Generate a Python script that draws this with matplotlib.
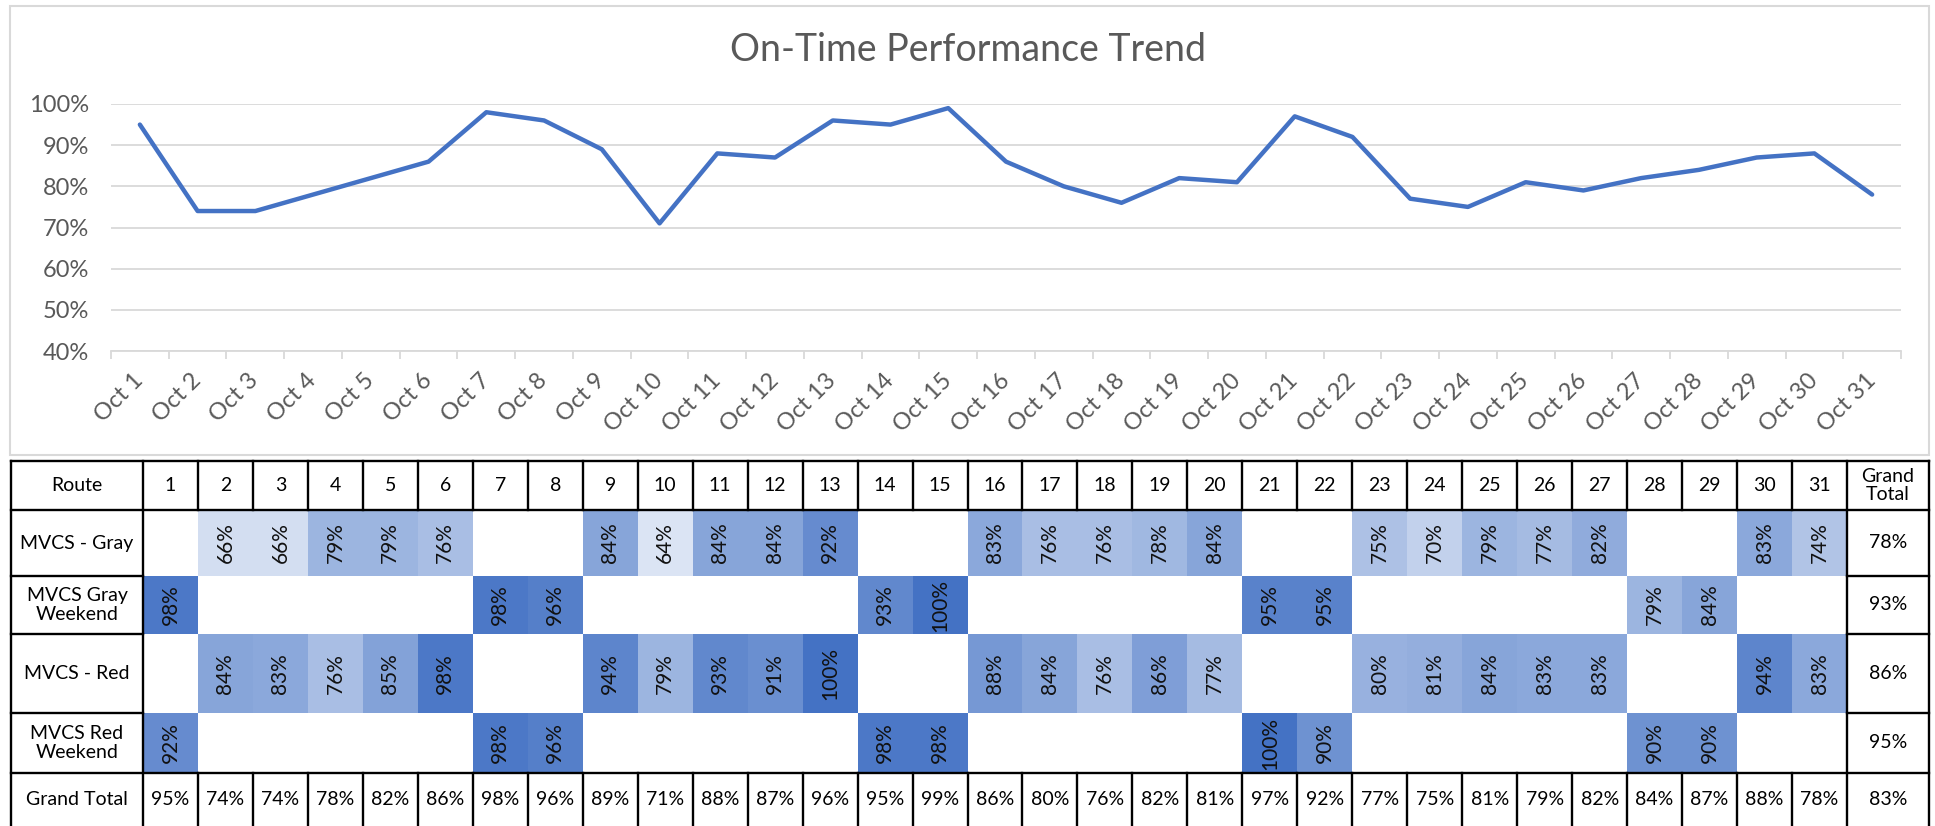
import matplotlib
matplotlib.use("Agg")
import matplotlib.pyplot as plt
from matplotlib.patches import Rectangle
import numpy as np

plt.rcParams["font.family"] = ["Lato", "DejaVu Sans"]

# ---- data ----
days = list(range(1, 32))
day_labels = [f"Oct {d}" for d in days]
grand_total = [95, 74, 74, 78, 82, 86, 98, 96, 89, 71, 88, 87, 96, 95, 99, 86,
               80, 76, 82, 81, 97, 92, 77, 75, 81, 79, 82, 84, 87, 88, 78]

routes = ["MVCS - Gray", "MVCS Gray\nWeekend", "MVCS - Red", "MVCS Red\nWeekend"]
N = None
gray = [N, 66, 66, 79, 79, 76, N, N, 84, 64, 84, 84, 92, N, N, 83,
        76, 76, 78, 84, N, N, 75, 70, 79, 77, 82, N, N, 83, 74]
gray_weekend = [98, N, N, N, N, N, 98, 96, N, N, N, N, N, 93, 100, N,
                N, N, N, N, 95, 95, N, N, N, N, N, 79, 84, N, N]
red = [N, 84, 83, 76, 85, 98, N, N, 94, 79, 93, 91, 100, N, N, 88,
       84, 76, 86, 77, N, N, 80, 81, 84, 83, 83, N, N, 94, 83]
red_weekend = [92, N, N, N, N, N, 98, 96, N, N, N, N, N, 98, 98, N,
               N, N, N, N, 100, 90, N, N, N, N, N, 90, 90, N, N]
route_totals = [78, 93, 86, 95]
overall_total = 83

# ---- layout (pixels) ----
W, H = 1935, 826
GRAY_TXT = "#595959"
GRID = "#D9D9D9"
BLUE = "#4472C4"

fig = plt.figure(figsize=(W / 100, H / 100), dpi=100)

# line chart
ax = fig.add_axes([111 / W, 1 - 351 / H, 1790 / W, 247 / H])
x = np.arange(len(days))
ax.plot(x, np.array(grand_total) / 100, color=BLUE, lw=3.2,
        solid_joinstyle="round", solid_capstyle="round", clip_on=False, zorder=3)
ax.set_xlim(-0.5, len(days) - 0.5)
ax.set_ylim(0.4, 1.0)
yt = np.arange(0.4, 1.001, 0.1)
ax.set_yticks(yt)
ax.set_yticklabels([f"{round(v * 100)}%" for v in yt])
ax.grid(axis="y", color=GRID, lw=1.3)
ax.set_axisbelow(True)
for s in ("top", "right", "left"):
    ax.spines[s].set_visible(False)
ax.spines["bottom"].set_color(GRID)
ax.spines["bottom"].set_linewidth(1.3)
ax.set_xticks(x)
ax.set_xticklabels(day_labels, rotation=45, ha="right", va="center",
                   rotation_mode="anchor")
ax.set_xticks(np.arange(-0.5, len(days), 1), minor=True)
ax.tick_params(axis="x", which="major", length=0, pad=19, labelsize=17,
               labelcolor=GRAY_TXT)
ax.tick_params(axis="x", which="minor", length=6, width=1.3, color=GRID)
ax.tick_params(axis="y", length=0, pad=16, labelsize=17, labelcolor=GRAY_TXT)

fig.text(0.5, 1 - 50 / H, "On-Time Performance Trend", ha="center", va="center",
         fontsize=27, color=GRAY_TXT)

# table + chart frame, drawn in pixel coordinates
tax = fig.add_axes([0, 0, 1, 1])
tax.set_xlim(0, W)
tax.set_ylim(H, 0)
tax.set_axis_off()

tax.add_patch(Rectangle((10, 6), 1919, 449, fill=False, ec=GRID, lw=1.5))

x_edges = [11, 143] + [143 + 1704 * i / 31 for i in range(1, 32)] + [1929]
y_edges = [461, 510, 576, 634, 713, 773, 826]
white = np.array([1.0, 1.0, 1.0])
blue = np.array(matplotlib.colors.to_rgb(BLUE))


def cell_color(v):
    t = np.clip((v - 55.5) / 44.5, 0, 1)
    return tuple((1 - t) * white + t * blue)


def cx(c):
    return (x_edges[c] + x_edges[c + 1]) / 2


def cy(r):
    return (y_edges[r] + y_edges[r + 1]) / 2


FS = 14
# header
tax.text(cx(0), cy(0), "Route", ha="center", va="center", fontsize=FS)
for i, d in enumerate(days):
    tax.text(cx(i + 1), cy(0), str(d), ha="center", va="center", fontsize=FS)
tax.text(cx(32), cy(0), "Grand\nTotal", ha="center", va="center", fontsize=FS,
         linespacing=1.05)

# body
for r, (name, vals) in enumerate(zip(routes, [gray, gray_weekend, red, red_weekend])):
    row = r + 1
    tax.text(cx(0), cy(row), name, ha="center", va="center", fontsize=FS,
             linespacing=1.15)
    for i, v in enumerate(vals):
        if v is None:
            continue
        c = i + 1
        tax.add_patch(Rectangle((x_edges[c], y_edges[row]),
                                x_edges[c + 1] - x_edges[c],
                                y_edges[row + 1] - y_edges[row],
                                fc=cell_color(v), ec="none"))
        tax.text(cx(c), cy(row), f"{v}%", ha="center", va="center",
                 rotation=90, fontsize=15, color="#111111")
    tax.text(cx(32), cy(row), f"{route_totals[r]}%", ha="center", va="center",
             fontsize=FS)

# grand total row
tax.text(cx(0), cy(5), "Grand Total", ha="center", va="center", fontsize=FS)
for i, v in enumerate(grand_total):
    tax.text(cx(i + 1), cy(5), f"{v}%", ha="center", va="center", fontsize=FS)
tax.text(cx(32), cy(5), f"{overall_total}%", ha="center", va="center", fontsize=FS)

# borders
LW = 1.7
kw = dict(color="black", lw=LW, solid_capstyle="projecting")
tax.plot([x_edges[0], x_edges[-1]], [y_edges[0]] * 2, **kw)
tax.plot([x_edges[0], x_edges[-1]], [y_edges[1]] * 2, **kw)
tax.plot([x_edges[0], x_edges[-1]], [y_edges[5]] * 2, **kw)
for xe in (x_edges[0], x_edges[1], x_edges[-2], x_edges[-1]):
    tax.plot([xe, xe], [y_edges[0], H], **kw)
for xe in x_edges[2:-2]:
    tax.plot([xe, xe], [y_edges[0], y_edges[1]], **kw)
    tax.plot([xe, xe], [y_edges[5], H], **kw)
for ye in y_edges[2:5]:
    tax.plot([x_edges[0], x_edges[1]], [ye, ye], **kw)
    tax.plot([x_edges[-2], x_edges[-1]], [ye, ye], **kw)

fig.savefig("out.png", dpi=100)
